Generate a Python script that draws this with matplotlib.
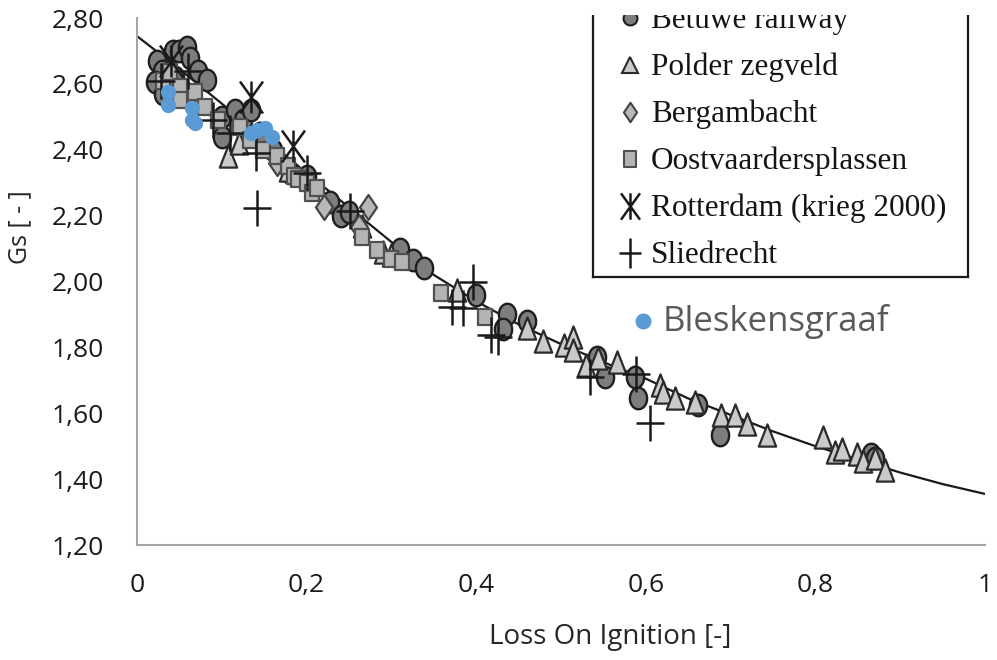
import numpy as np
import matplotlib.pyplot as plt
from matplotlib.path import Path
from matplotlib.patches import Rectangle
from matplotlib.lines import Line2D

W, H = 997, 660

# trend line through the peat data
fit_loi = [0.0, 0.05, 0.1, 0.15, 0.2, 0.25, 0.3, 0.35, 0.4, 0.45, 0.5,
           0.55, 0.6, 0.65, 0.7, 0.75, 0.8, 0.85, 0.9, 0.95, 1.0]
fit_gs = [2.745, 2.645, 2.54, 2.435, 2.33, 2.225, 2.12, 2.02, 1.94, 1.87, 1.81,
          1.755, 1.705, 1.645, 1.595, 1.545, 1.50, 1.46, 1.42, 1.385, 1.355]

betuwe_loi = [0.023, 0.03, 0.043, 0.05, 0.059, 0.062, 0.072, 0.082, 0.021, 0.031,
              0.045, 0.06, 0.10, 0.115, 0.125, 0.135, 0.10, 0.145, 0.16, 0.18,
              0.20, 0.228, 0.24, 0.25, 0.31, 0.326, 0.338, 0.40, 0.436, 0.432,
              0.46, 0.542, 0.552, 0.587, 0.591, 0.662, 0.688, 0.865, 0.87]
betuwe_gs = [2.67, 2.64, 2.70, 2.70, 2.711, 2.68, 2.638, 2.612, 2.606, 2.57,
             2.62, 2.57, 2.50, 2.52, 2.49, 2.52, 2.44, 2.45, 2.40, 2.33,
             2.32, 2.24, 2.20, 2.21, 2.10, 2.065, 2.04, 1.96, 1.90, 1.855,
             1.88, 1.77, 1.71, 1.71, 1.645, 1.625, 1.535, 1.475, 1.465]

polder_loi = [0.107, 0.12, 0.178, 0.265, 0.29, 0.30, 0.377, 0.46, 0.479, 0.503,
              0.514, 0.514, 0.53, 0.544, 0.566, 0.617, 0.62, 0.634, 0.658, 0.689,
              0.705, 0.719, 0.743, 0.809, 0.823, 0.831, 0.849, 0.856, 0.87, 0.882]
polder_gs = [2.38, 2.42, 2.34, 2.17, 2.09, 2.08, 1.975, 1.86, 1.82, 1.807,
             1.832, 1.792, 1.746, 1.768, 1.757, 1.686, 1.665, 1.645, 1.635, 1.595,
             1.595, 1.566, 1.534, 1.529, 1.483, 1.49, 1.475, 1.455, 1.464, 1.428]

berg_loi = [0.165, 0.22, 0.262, 0.272]
berg_gs = [2.36, 2.225, 2.165, 2.225]

oost_loi = [0.031, 0.039, 0.051, 0.068, 0.051, 0.08, 0.096, 0.121, 0.133, 0.149,
            0.165, 0.178, 0.185, 0.19, 0.2, 0.206, 0.212, 0.265, 0.283, 0.30,
            0.312, 0.359, 0.41]
oost_gs = [2.61, 2.636, 2.59, 2.576, 2.55, 2.53, 2.49, 2.47, 2.43, 2.40,
           2.38, 2.35, 2.32, 2.31, 2.30, 2.27, 2.285, 2.135, 2.096, 2.068,
           2.06, 1.965, 1.893]

rdam_loi = [0.04, 0.135, 0.184]
rdam_gs = [2.67, 2.56, 2.41]

slie_loi = [0.028, 0.06, 0.09, 0.11, 0.14, 0.141, 0.2, 0.251, 0.371, 0.385,
            0.396, 0.418, 0.426, 0.534, 0.589, 0.605]
slie_gs = [2.61, 2.64, 2.49, 2.45, 2.39, 2.222, 2.33, 2.215, 1.924, 1.92,
           2.0, 1.838, 1.83, 1.711, 1.72, 1.569]

bles_loi = [0.036, 0.036, 0.065, 0.065, 0.068, 0.135, 0.141, 0.151, 0.159]
bles_gs = [2.575, 2.535, 2.527, 2.49, 2.48, 2.45, 2.46, 2.465, 2.44]

x_ticks = [0, 0.2, 0.4, 0.6, 0.8, 1.0]
x_tick_labels = ['0', '0,2', '0,4', '0,6', '0,8', '1']
y_ticks = [1.2, 1.4, 1.6, 1.8, 2.0, 2.2, 2.4, 2.6, 2.8]
y_tick_labels = ['1,20', '1,40', '1,60', '1,80', '2,00', '2,20', '2,40', '2,60', '2,80']

legend_names = ['Betuwe railway', 'Polder zegveld', 'Bergambacht',
                'Oostvaardersplassen', 'Rotterdam (krieg 2000)', 'Sliedrecht']

# marker shapes of the scanned figure (slightly taller than wide)
t = np.linspace(0, 2 * np.pi, 60)
ellipse = Path(np.column_stack([0.8 * np.cos(t), np.sin(t)]), closed=True)
tall_tri = Path([(0, 1), (-0.78, -1), (0.78, -1), (0, 1)], closed=True)
tall_sq = Path([(-0.82, -1), (0.82, -1), (0.82, 1), (-0.82, 1), (-0.82, -1)], closed=True)
tall_dia = Path([(0, 1), (0.68, 0), (0, -1), (-0.68, 0), (0, 1)], closed=True)
M, L_ = Path.MOVETO, Path.LINETO
plus_m = Path([(0, 1), (0, -1), (-0.76, 0), (0.76, 0)], [M, L_, M, L_])
star_m = Path([(0, 1), (0, -1), (-0.72, 1), (0.72, -1), (0.72, 1), (-0.72, -1)],
              [M, L_, M, L_, M, L_])

fig = plt.figure(figsize=(W / 100, H / 100), dpi=100)
ax = fig.add_axes([137 / W, 1 - 545 / H, 848 / W, 527 / H])

ax.plot(fit_loi, fit_gs, color='#1a1a1a', lw=1.6, zorder=2)
ax.plot(betuwe_loi, betuwe_gs, ls='none', marker=ellipse, ms=15.5,
        mfc='#7d7d7d', mec='#1e1e1e', mew=1.7, zorder=3)
ax.plot(polder_loi, polder_gs, ls='none', marker=tall_tri, ms=16,
        mfc='#cacaca', mec='#2a2a2a', mew=1.6, zorder=3)
ax.plot(berg_loi, berg_gs, ls='none', marker=tall_dia, ms=18,
        mfc='#b8b8b8', mec='#444444', mew=1.6, zorder=3)
ax.plot(oost_loi, oost_gs, ls='none', marker=tall_sq, ms=11.5,
        mfc='#b4b4b4', mec='#505050', mew=1.6, zorder=3)
ax.plot(rdam_loi, rdam_gs, ls='none', marker=star_m, ms=23,
        mfc='none', mec='#1a1a1a', mew=1.8, zorder=4)
ax.plot(slie_loi, slie_gs, ls='none', marker=plus_m, ms=26,
        mfc='none', mec='#1a1a1a', mew=1.8, zorder=4)
ax.plot(bles_loi, bles_gs, ls='none', marker='o', ms=10,
        mfc='#5b9bd5', mec='#5b9bd5', zorder=5)

ax.set_xlim(0, 1)
ax.set_ylim(1.2, 2.8)
ax.set_xticks(x_ticks)
ax.set_xticklabels(x_tick_labels)
ax.set_yticks(y_ticks)
ax.set_yticklabels(y_tick_labels)
for s in ['top', 'right']:
    ax.spines[s].set_visible(False)
for s in ['left', 'bottom']:
    ax.spines[s].set_color('#a6a6a6')
    ax.spines[s].set_linewidth(1.5)
ax.tick_params(length=0, labelsize=19, labelcolor='#1a1a1a')
ax.tick_params(axis='y', pad=24)
ax.tick_params(axis='x', pad=20)
for lab in ax.get_xticklabels() + ax.get_yticklabels():
    lab.set_fontfamily('Open Sans')

ax.set_xlabel('Loss On Ignition [-]', fontsize=20, fontfamily='Open Sans', color='#262626')
ax.xaxis.set_label_coords(0.558, -0.148)
ax.set_ylabel('Gs [ - ]', fontsize=18, fontfamily='Open Sans', color='#262626')
ax.yaxis.set_label_coords(-0.124, 0.603)


def fx(px):
    return px / W


def fy(py):
    return 1 - py / H


# legend of the scanned figure
box_l, box_r, box_b = 593, 968, 277
for xs, ys in [([box_l, box_l], [16, box_b]), ([box_r, box_r], [16, box_b]),
               ([box_l, box_r], [box_b, box_b])]:
    fig.add_artist(Line2D([fx(v) for v in xs], [fy(v) for v in ys], color='#1a1a1a', lw=1.6))

leg_styles = [
    dict(marker='o', ms=10, mfc='#7d7d7d', mec='#1e1e1e', mew=1.5),
    dict(marker='^', ms=12, mfc='#cacaca', mec='#2a2a2a', mew=1.5),
    dict(marker=tall_dia, ms=14, mfc='#b8b8b8', mec='#444444', mew=1.5),
    dict(marker=tall_sq, ms=11, mfc='#b4b4b4', mec='#505050', mew=1.5),
    dict(marker=star_m, ms=19, mfc='none', mec='#1a1a1a', mew=1.8),
    dict(marker=plus_m, ms=21, mfc='none', mec='#1a1a1a', mew=1.8),
]
for i, (name, st) in enumerate(zip(legend_names, leg_styles)):
    base = 28 + 47.1 * i
    fig.add_artist(Line2D([fx(630)], [fy(base - 10)], ls='none', **st))
    fig.text(fx(651), fy(base), name, fontsize=22.5, fontfamily='Liberation Serif',
             color='#141414', va='baseline', ha='left')
# top edge of the scanned figure is cut off
fig.add_artist(Rectangle((fx(585), fy(15)), fx(400), 15 / H, facecolor='white',
                         edgecolor='none', zorder=10))

# legend entry for the own measurements
fig.add_artist(Line2D([fx(643)], [fy(321)], ls='none', marker='o', ms=10.5,
                      mfc='#5b9bd5', mec='#5b9bd5'))
fig.text(fx(663), fy(331), 'Bleskensgraaf', fontsize=25, fontfamily='Open Sans',
         color='#595959', va='baseline', ha='left')

fig.savefig('out.png', dpi=100)
